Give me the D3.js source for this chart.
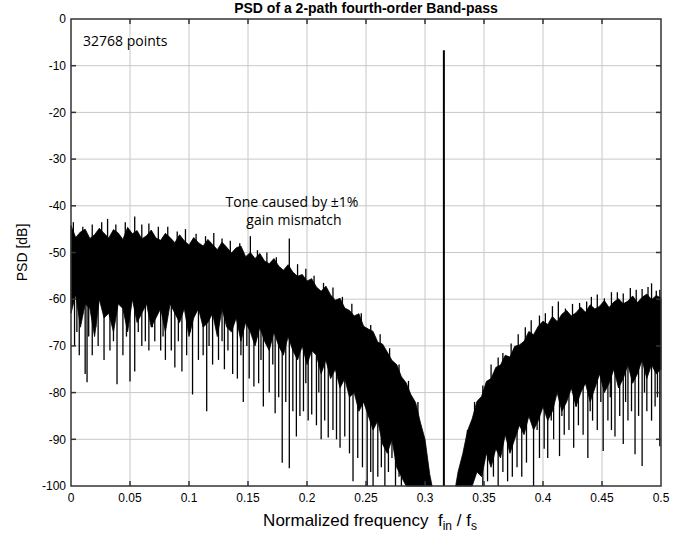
<!DOCTYPE html>
<html>
<head>
<meta charset="utf-8">
<script src="https://cdn.jsdelivr.net/npm/d3@7"></script>
<style>
  body { margin: 0; background: #fff; }
  text { font-family: "Liberation Sans", Arial, sans-serif; }
  text.note { font-family: "Open Sans", "Noto Sans", sans-serif; }
</style>
</head>
<body>
<div id="chart"></div>
<script>
// PSD: top / bottom of the solid noise band on a 0.004 grid,
// plus the individual spikes that stick out of it
const leftFreq = d3.range(77).map(i => +(i * 0.004).toFixed(3));
const leftTop = [
  -44.2, -46.8, -45.6, -45.0, -47.0, -46.2, -44.8, -45.9, -46.9, -45.1,
  -45.8, -47.2, -44.6, -46.0, -45.3, -47.1, -46.4, -45.2, -46.9, -47.4,
  -45.9, -46.8, -47.9, -46.2, -47.5, -48.4, -46.8, -47.9, -48.6, -47.2,
  -48.3, -49.4, -47.8, -48.9, -50.1, -49.0, -48.6, -50.9, -50.0, -51.3,
  -50.2, -51.8, -52.4, -51.3, -52.9, -53.8, -52.6, -54.2, -55.1, -54.7,
  -56.1, -55.6, -57.4, -58.3, -57.2, -59.1, -60.2, -59.8, -61.9, -62.4,
  -63.6, -63.1, -65.8, -66.4, -66.9, -69.2, -69.6, -71.3, -73.1, -74.0,
  -76.6, -77.9, -80.4, -82.1, -86.3, -90.0, -97.5
];
const leftFloor = [
  -63, -59, -66, -61, -62, -68, -60, -64, -63, -67,
  -61, -62, -67, -60, -65, -63, -61, -66, -64, -62,
  -67, -61, -63, -65, -62, -68, -64, -62, -66, -65,
  -63, -68, -62, -66, -67, -64, -69, -65, -67, -70,
  -66, -69, -71, -67, -70, -72, -68, -71, -73, -70,
  -74, -71, -72, -76, -73, -77, -75, -79, -77, -81,
  -80, -84, -82, -85, -88, -86, -91, -93, -90, -96,
  -98, -100, -100, -100, -100, -100, -100
];

const rightFreq = d3.range(44).map(i => +(0.328 + i * 0.004).toFixed(3));
const rightTop = [
  -97.0, -93.1, -88.2, -85.6, -81.9, -80.8, -77.6, -77.0, -74.6, -74.1,
  -72.0, -72.4, -70.1, -69.8, -69.0, -66.9, -67.6, -65.8, -64.7, -65.4,
  -63.7, -64.8, -63.2, -62.4, -63.6, -62.9, -61.7, -62.8, -61.2, -62.1,
  -61.5, -60.3, -61.8, -60.6, -59.9, -61.0, -60.4, -59.3, -60.7, -59.6,
  -58.9, -60.1, -59.2, -59.8
];
const rightFloor = [
  -100, -100, -100, -100, -97, -98, -93, -96, -92, -94,
  -89, -93, -90, -87, -89, -85, -88, -86, -83, -86,
  -84, -80, -84, -82, -79, -83, -80, -78, -82, -79,
  -76, -80, -78, -75, -79, -77, -74, -78, -76, -73,
  -77, -74, -76, -75
];

const peakFreq = [
  0.002, 0.010, 0.018, 0.026, 0.031, 0.038, 0.046, 0.054, 0.060, 0.066,
  0.074, 0.082, 0.090, 0.097, 0.106, 0.114, 0.121, 0.128, 0.135, 0.143,
  0.152, 0.158, 0.166, 0.174, 0.185, 0.192, 0.199, 0.206, 0.214, 0.222,
  0.230, 0.238, 0.246, 0.254, 0.262, 0.270, 0.278, 0.286, 0.294,
  0.336, 0.342, 0.349, 0.356, 0.362, 0.366, 0.373, 0.379, 0.385, 0.390,
  0.397, 0.402, 0.408, 0.413, 0.419, 0.425, 0.431, 0.437, 0.441, 0.446,
  0.452, 0.458, 0.463, 0.468, 0.474, 0.479, 0.484, 0.489, 0.492, 0.496, 0.499
];
const peakDb = [
  -43.5, -44.5, -44.0, -43.5, -42.8, -44.0, -43.5, -42.3, -44.0, -43.8,
  -44.5, -44.5, -45.5, -45.0, -46.0, -46.5, -45.8, -47.0, -47.5, -48.0,
  -46.5, -49.5, -50.0, -51.0, -47.0, -52.5, -53.5, -55.0, -56.5, -57.5,
  -59.5, -61.0, -63.0, -65.5, -67.5, -70.5, -74.0, -77.5, -82.0,
  -88.0, -82.0, -78.5, -74.0, -72.5, -71.5, -69.5, -67.5, -66.0, -64.5,
  -63.5, -63.0, -61.5, -60.5, -62.0, -61.0, -60.8, -60.5, -59.5, -59.0,
  -59.8, -58.5, -58.5, -58.8, -57.6, -58.0, -57.8, -57.4, -56.6, -58.2, -58.0
];

const dipFreq = [
  0.003, 0.007, 0.012, 0.0136, 0.018, 0.023, 0.028, 0.033, 0.039, 0.044,
  0.050, 0.054, 0.060, 0.066, 0.071, 0.076, 0.080, 0.085, 0.088, 0.094,
  0.098, 0.103, 0.108, 0.112, 0.115, 0.120, 0.125, 0.130, 0.137, 0.141,
  0.146, 0.151, 0.155, 0.159, 0.163, 0.168, 0.173, 0.176, 0.179, 0.182,
  0.185, 0.188, 0.191, 0.194, 0.197, 0.201, 0.204, 0.208, 0.212, 0.215,
  0.218, 0.222, 0.225, 0.228, 0.232, 0.236, 0.239, 0.243, 0.247, 0.251,
  0.254, 0.256, 0.260, 0.263, 0.266, 0.269, 0.272, 0.275, 0.278, 0.280,
  0.005, 0.015, 0.021, 0.036, 0.047, 0.057, 0.063, 0.069, 0.078, 0.091,
  0.101, 0.117, 0.128, 0.133, 0.144, 0.149, 0.161, 0.171, 0.199, 0.210,
  0.349, 0.353, 0.358, 0.362, 0.366, 0.370, 0.374, 0.378, 0.382, 0.386,
  0.392, 0.397, 0.401, 0.404, 0.409, 0.414, 0.418, 0.422, 0.426, 0.430,
  0.434, 0.438, 0.442, 0.446, 0.451, 0.455, 0.458, 0.461, 0.465, 0.468,
  0.472, 0.475, 0.478, 0.481, 0.484, 0.488, 0.492, 0.495, 0.499,
  0.395, 0.407, 0.416, 0.428, 0.440, 0.449, 0.457, 0.470, 0.486, 0.497
];
const dipDb = [
  -70, -72, -76, -77.8, -72, -70, -73, -71, -78.2, -72,
  -77.6, -75.5, -70, -71, -69, -71, -73, -71, -74.6, -75.5,
  -72, -80.4, -73, -72, -84, -74, -73, -75, -76, -77,
  -82, -77, -78.7, -78, -83, -80, -84.4, -81, -95, -82,
  -96.2, -84, -89.4, -85, -84, -86, -84.7, -87, -90, -86,
  -89.6, -88, -90, -91.8, -89.4, -93, -99, -94, -96, -100,
  -97, -100, -98, -96, -100, -97, -94, -100, -98, -100,
  -67, -68, -66, -69, -68, -67, -69, -66, -68, -69,
  -67, -70, -69, -71, -72, -70, -73, -74, -78, -80,
  -100, -99, -98, -100, -97, -99, -98, -96, -98, -95,
  -100, -94, -92, -94, -90, -93.6, -89, -88, -91.8, -87,
  -89, -94, -86, -88, -92.5, -86, -88, -89.4, -85, -91,
  -86, -84, -93.2, -85, -95.7, -84, -86, -83, -91.5,
  -88, -86, -85, -83, -84, -82, -81, -82, -80, -81
];

const toneFreq = [0.316];
const toneDb = [-6.7];

const xTicks = [0, 0.05, 0.1, 0.15, 0.2, 0.25, 0.3, 0.35, 0.4, 0.45, 0.5];
const yTicks = [0, -10, -20, -30, -40, -50, -60, -70, -80, -90, -100];

const width = 698, height = 537;
const margin = {top: 19, right: 37, bottom: 51, left: 71};
const iw = width - margin.left - margin.right;
const ih = height - margin.top - margin.bottom;

const x = d3.scaleLinear().domain([0, 0.5]).range([0, iw]);
const y = d3.scaleLinear().domain([-100, 0]).range([ih, 0]);

// linear lookup into a band edge
const lookup = (fs, vals, f) => {
  const i = Math.max(1, Math.min(fs.length - 1, d3.bisectLeft(fs, f)));
  const t = (f - fs[i - 1]) / (fs[i] - fs[i - 1]);
  return vals[i - 1] + Math.max(0, Math.min(1, t)) * (vals[i] - vals[i - 1]);
};

const svg = d3.select("#chart").append("svg")
  .attr("width", width)
  .attr("height", height);

const g = svg.append("g")
  .attr("transform", `translate(${margin.left},${margin.top})`);

// grid
g.append("g").selectAll("line").data(xTicks.slice(1, -1)).join("line")
  .attr("x1", d => x(d)).attr("x2", d => x(d))
  .attr("y1", 0).attr("y2", ih)
  .attr("stroke", "#c8c8c8").attr("stroke-width", 1);
g.append("g").selectAll("line").data(yTicks.slice(1, -1)).join("line")
  .attr("y1", d => y(d)).attr("y2", d => y(d))
  .attr("x1", 0).attr("x2", iw)
  .attr("stroke", "#c8c8c8").attr("stroke-width", 1);

const plot = g.append("g");

const area = d3.area()
  .x(d => x(d.f))
  .y0(d => y(d.lo))
  .y1(d => y(d.hi));

const leftBand = leftFreq.map((f, i) => ({f, hi: leftTop[i], lo: leftFloor[i]}));
leftBand.push({f: 0.306, hi: -100, lo: -100});
const rightBand = rightFreq.map((f, i) => ({f, hi: rightTop[i], lo: rightFloor[i]}));
rightBand.unshift({f: 0.326, hi: -100, lo: -100});

[leftBand, rightBand].forEach(band => {
  plot.append("path")
    .datum(band)
    .attr("d", area)
    .attr("fill", "#000")
    .attr("stroke", "#000")
    .attr("stroke-width", 0.8);
});

const edges = f => f < 0.31
  ? {top: lookup(leftFreq, leftTop, f), floor: lookup(leftFreq, leftFloor, f)}
  : {top: lookup(rightFreq, rightTop, f), floor: lookup(rightFreq, rightFloor, f)};

// spikes above the band
plot.append("g").selectAll("line").data(peakFreq).join("line")
  .attr("x1", d => x(d)).attr("x2", d => x(d))
  .attr("y1", (d, i) => y(peakDb[i]))
  .attr("y2", d => y(edges(d).top - 2))
  .attr("stroke", "#000").attr("stroke-width", 1.3);

// spikes below the band
plot.append("g").selectAll("line").data(dipFreq).join("line")
  .attr("x1", d => x(d)).attr("x2", d => x(d))
  .attr("y1", (d, i) => y(dipDb[i]))
  .attr("y2", d => y(edges(d).floor + 2))
  .attr("stroke", "#000").attr("stroke-width", 1.3);

// input tone
plot.append("g").selectAll("line").data(toneFreq).join("line")
  .attr("x1", d => x(d)).attr("x2", d => x(d))
  .attr("y1", (d, i) => y(toneDb[i]))
  .attr("y2", y(-100))
  .attr("stroke", "#000").attr("stroke-width", 2);

// frame and ticks (inside)
g.append("rect")
  .attr("width", iw).attr("height", ih)
  .attr("fill", "none").attr("stroke", "#333").attr("stroke-width", 1.5);

const tk = 5;
const tickG = g.append("g").attr("stroke", "#333").attr("stroke-width", 1.5);
xTicks.slice(1, -1).forEach(d => {
  tickG.append("line").attr("x1", x(d)).attr("x2", x(d)).attr("y1", ih).attr("y2", ih - tk);
  tickG.append("line").attr("x1", x(d)).attr("x2", x(d)).attr("y1", 0).attr("y2", tk);
});
yTicks.slice(1, -1).forEach(d => {
  tickG.append("line").attr("y1", y(d)).attr("y2", y(d)).attr("x1", 0).attr("x2", tk);
  tickG.append("line").attr("y1", y(d)).attr("y2", y(d)).attr("x1", iw).attr("x2", iw - tk);
});

// tick labels
g.append("g").selectAll("text").data(xTicks).join("text")
  .attr("x", d => x(d)).attr("y", ih + 16)
  .attr("text-anchor", "middle")
  .attr("font-size", 12)
  .text(d => d3.format("~g")(d));
g.append("g").selectAll("text").data(yTicks).join("text")
  .attr("x", -5).attr("y", d => y(d)).attr("dy", "0.35em")
  .attr("text-anchor", "end")
  .attr("font-size", 12)
  .text(d => d);

// titles
svg.append("text")
  .attr("x", margin.left + iw / 2).attr("y", 13)
  .attr("text-anchor", "middle")
  .attr("font-size", 14).attr("font-weight", "bold")
  .text("PSD of a 2-path fourth-order Band-pass");

svg.append("text")
  .attr("transform", `translate(27,${margin.top + ih / 2}) rotate(-90)`)
  .attr("text-anchor", "middle")
  .attr("font-size", 14)
  .text("PSD [dB]");

const xl = svg.append("text")
  .attr("x", margin.left + iw / 2 + 4).attr("y", 526)
  .attr("text-anchor", "middle")
  .attr("font-size", 17);
xl.append("tspan").text("Normalized frequency\u00a0\u00a0f");
xl.append("tspan").attr("font-size", 12).attr("dy", 4).text("in");
xl.append("tspan").attr("dy", -4).text(" / f");
xl.append("tspan").attr("font-size", 12).attr("dy", 4).text("s");

// annotations
svg.append("text").attr("class", "note")
  .attr("x", 83).attr("y", 46).attr("font-size", 14)
  .text("32768 points");
svg.append("text").attr("class", "note")
  .attr("x", 292).attr("y", 207).attr("text-anchor", "middle").attr("font-size", 14)
  .text("Tone caused by \u00b11%");
svg.append("text").attr("class", "note")
  .attr("x", 294).attr("y", 225).attr("text-anchor", "middle").attr("font-size", 14)
  .text("gain mismatch");
</script>
</body>
</html>
